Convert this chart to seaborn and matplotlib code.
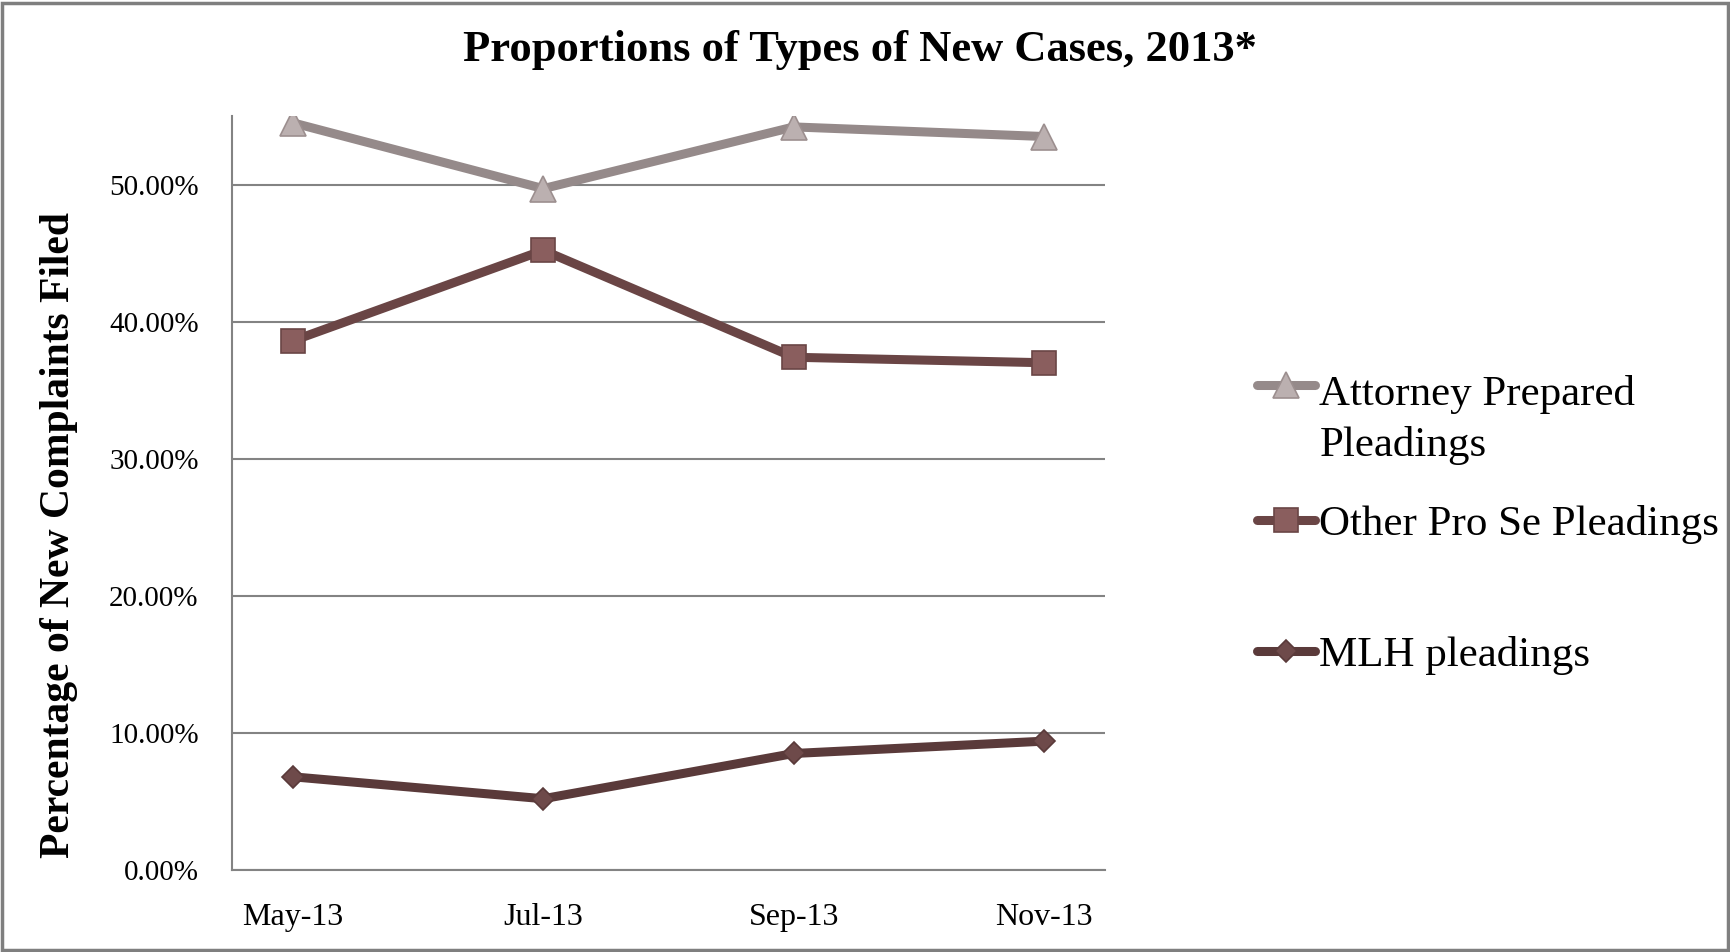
import matplotlib
matplotlib.use("Agg")
import matplotlib.pyplot as plt
from matplotlib.patches import Rectangle
from matplotlib.ticker import FuncFormatter, MultipleLocator
import numpy as np
import pandas as pd
import seaborn as sns

# Survey months and the share of new complaints by pleading type
months = ["May-13", "Jul-13", "Sep-13", "Nov-13"]
attorney = [0.545, 0.497, 0.542, 0.535]
other_pro_se = [0.386, 0.452, 0.374, 0.370]
mlh = [0.068, 0.052, 0.085, 0.094]

series_names = ["Attorney Prepared\nPleadings", "Other Pro Se Pleadings", "MLH pleadings"]

df = pd.DataFrame({
    "month": months * 3,
    "share": attorney + other_pro_se + mlh,
    "series": np.repeat(series_names, len(months)),
})

sns.set_theme(style="white")
plt.rcParams["font.family"] = ["Liberation Serif", "DejaVu Serif"]
plt.rcParams["text.color"] = "black"
plt.rcParams["axes.labelcolor"] = "black"

fig = plt.figure(figsize=(17.31, 9.52), dpi=100)
ax = fig.add_axes([0.134, 0.0861, 0.5044, 0.7921])

styles = {
    series_names[0]: dict(color="#958a8a", marker="^", mfc="#bbb0b0", mec="#9c8f8f", ms=19),
    series_names[1]: dict(color="#6a4545", marker="s", mfc="#8a5e5e", mec="#6a4545", ms=17),
    series_names[2]: dict(color="#5a3a3a", marker="D", mfc="#6e4a4a", mec="#5a3a3a", ms=11.5),
}

for name in series_names:
    st = styles[name]
    sub = df[df["series"] == name]
    sns.lineplot(data=sub, x="month", y="share", ax=ax, sort=False,
                 color=st["color"], linewidth=6.5, marker=st["marker"],
                 markersize=st["ms"], markerfacecolor=st["mfc"],
                 markeredgecolor=st["mec"], markeredgewidth=1.2,
                 label=name, legend=False, solid_capstyle="round")

ax.set_xlim(-0.243, 3.243)
ax.set_ylim(0, 0.55)
ax.yaxis.set_major_locator(MultipleLocator(0.10))
ax.yaxis.set_major_formatter(FuncFormatter(lambda v, p: f"{v*100:.2f}%"))
ax.grid(axis="y", color="#838383", linewidth=1.5)
ax.grid(axis="x", visible=False)
for side in ["top", "right"]:
    ax.spines[side].set_visible(False)
for side in ["left", "bottom"]:
    ax.spines[side].set_color("#838383")
    ax.spines[side].set_linewidth(1.5)
ax.tick_params(axis="both", length=0, colors="black")
ax.tick_params(axis="y", labelsize=21, pad=24)
ax.tick_params(axis="x", labelsize=23, pad=24)
ax.set_xlabel("")
ax.set_ylabel("Percentage of New Complaints Filed", fontsize=30, fontweight="bold")
ax.yaxis.set_label_coords(-0.176, 0.444)

fig.text(0.497, 0.948, "Proportions of Types of New Cases, 2013*", ha="center", va="center",
         fontsize=32, fontweight="bold")

# Legend: the two upper keys in one block, the MLH key set lower on its own
leg_fs = 31
leg_kw = dict(frameon=False, fontsize=leg_fs, handlelength=1.35, handletextpad=0.1,
              borderaxespad=0, borderpad=0)
lines = ax.get_lines()[:3]
leg_top = ax.legend(lines[:2], series_names[:2], loc="center left",
                    bbox_to_anchor=(1.174, 0.544), labelspacing=0.93, **leg_kw)
leg_top.get_texts()[0].set_linespacing(1.4)
# Put the first key beside the top line of its two-line label
first = leg_top.legend_handles[0]
first.set_ydata(np.asarray(first.get_ydata()) + 0.58 * 1.4 * leg_fs)
ax.add_artist(leg_top)

ax.legend(lines[2:], series_names[2:], loc="center left",
          bbox_to_anchor=(1.174, 0.2841), **leg_kw)

# Outer frame around the whole figure
fig.patches.append(Rectangle((0.001, 0.002), 0.997, 0.995, transform=fig.transFigure,
                             fill=False, edgecolor="#7f7f7f", linewidth=2.5))

fig.savefig("out.png", dpi=100)
